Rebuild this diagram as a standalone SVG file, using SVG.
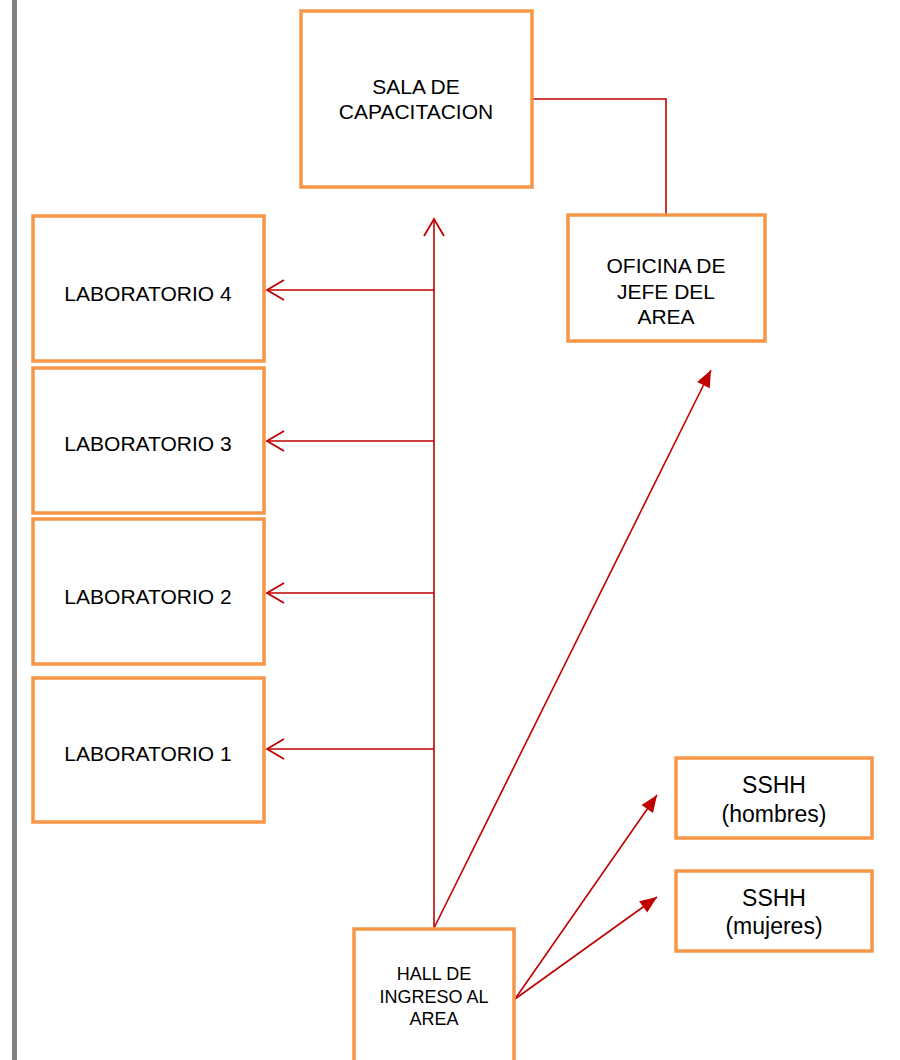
<svg xmlns="http://www.w3.org/2000/svg" width="900" height="1060" viewBox="0 0 900 1060">
<style>
.box{fill:#fff;stroke:#F79646;stroke-width:3.5}
.t{font-family:"Liberation Sans",Arial,sans-serif;font-size:21px;fill:#000;text-anchor:middle}
.ts{font-family:"Liberation Sans",Arial,sans-serif;font-size:18px;fill:#000;text-anchor:middle}
.tl{font-family:"Liberation Sans",Arial,sans-serif;font-size:23px;fill:#000;text-anchor:middle}
.c{fill:none;stroke:#C00000;stroke-width:1.6}
</style>
<defs>
<marker id="open" viewBox="-20 -12 22 24" refX="0" refY="0" markerWidth="22" markerHeight="24" markerUnits="userSpaceOnUse" orient="auto" overflow="visible">
<path d="M-17,-10 L0,0 L-17,10" fill="none" stroke="#C00000" stroke-width="1.8"/>
</marker>
<marker id="fill" viewBox="-18 -8 19 16" refX="0" refY="0" markerWidth="19" markerHeight="16" markerUnits="userSpaceOnUse" orient="auto" overflow="visible">
<path d="M-17,-7 L0,0 L-17,7 Z" fill="#C00000"/>
</marker>
</defs>
<rect x="12" y="0" width="5" height="1060" fill="#808080"/>
<g id="connectors">
<polyline class="c" points="533,99 666,99 666,214"/>
<line class="c" x1="434" y1="928" x2="434" y2="219" stroke-width="2" marker-end="url(#open)"/>
<line class="c" x1="434" y1="290" x2="267" y2="290" marker-end="url(#open)"/>
<line class="c" x1="434" y1="441" x2="267" y2="441" marker-end="url(#open)"/>
<line class="c" x1="434" y1="593" x2="267" y2="593" marker-end="url(#open)"/>
<line class="c" x1="434" y1="749" x2="267" y2="749" marker-end="url(#open)"/>
<line class="c" x1="434" y1="928" x2="711" y2="370" marker-end="url(#fill)"/>
<line class="c" x1="515" y1="999" x2="657" y2="795" marker-end="url(#fill)"/>
<line class="c" x1="515" y1="999" x2="657" y2="897" marker-end="url(#fill)"/>
</g>
<g id="sala">
<rect class="box" x="301" y="11" width="231" height="176"/>
<text class="t" x="416" y="94">SALA DE</text>
<text class="t" x="416" y="119">CAPACITACION</text>
</g>
<g id="oficina">
<rect class="box" x="568" y="215" width="197" height="126"/>
<text class="t" x="666" y="273">OFICINA DE</text>
<text class="t" x="666" y="299">JEFE DEL</text>
<text class="t" x="666" y="324">AREA</text>
</g>
<g id="lab4">
<rect class="box" x="33" y="216" width="231" height="145"/>
<text class="t" x="148" y="301">LABORATORIO 4</text>
</g>
<g id="lab3">
<rect class="box" x="33" y="368" width="231" height="145"/>
<text class="t" x="148" y="451">LABORATORIO 3</text>
</g>
<g id="lab2">
<rect class="box" x="33" y="519" width="231" height="145"/>
<text class="t" x="148" y="604">LABORATORIO 2</text>
</g>
<g id="lab1">
<rect class="box" x="33" y="678" width="231" height="144"/>
<text class="t" x="148" y="761">LABORATORIO 1</text>
</g>
<g id="sshh-hombres">
<rect class="box" x="676" y="758" width="196" height="80"/>
<text class="tl" x="774" y="793">SSHH</text>
<text class="tl" x="774" y="822">(hombres)</text>
</g>
<g id="sshh-mujeres">
<rect class="box" x="676" y="871" width="196" height="80"/>
<text class="tl" x="774" y="906">SSHH</text>
<text class="tl" x="774" y="934">(mujeres)</text>
</g>
<g id="hall">
<rect class="box" x="354" y="929" width="160" height="150"/>
<text class="ts" x="434" y="980">HALL DE</text>
<text class="ts" x="434" y="1003">INGRESO AL</text>
<text class="ts" x="434" y="1025">AREA</text>
</g>
</svg>
